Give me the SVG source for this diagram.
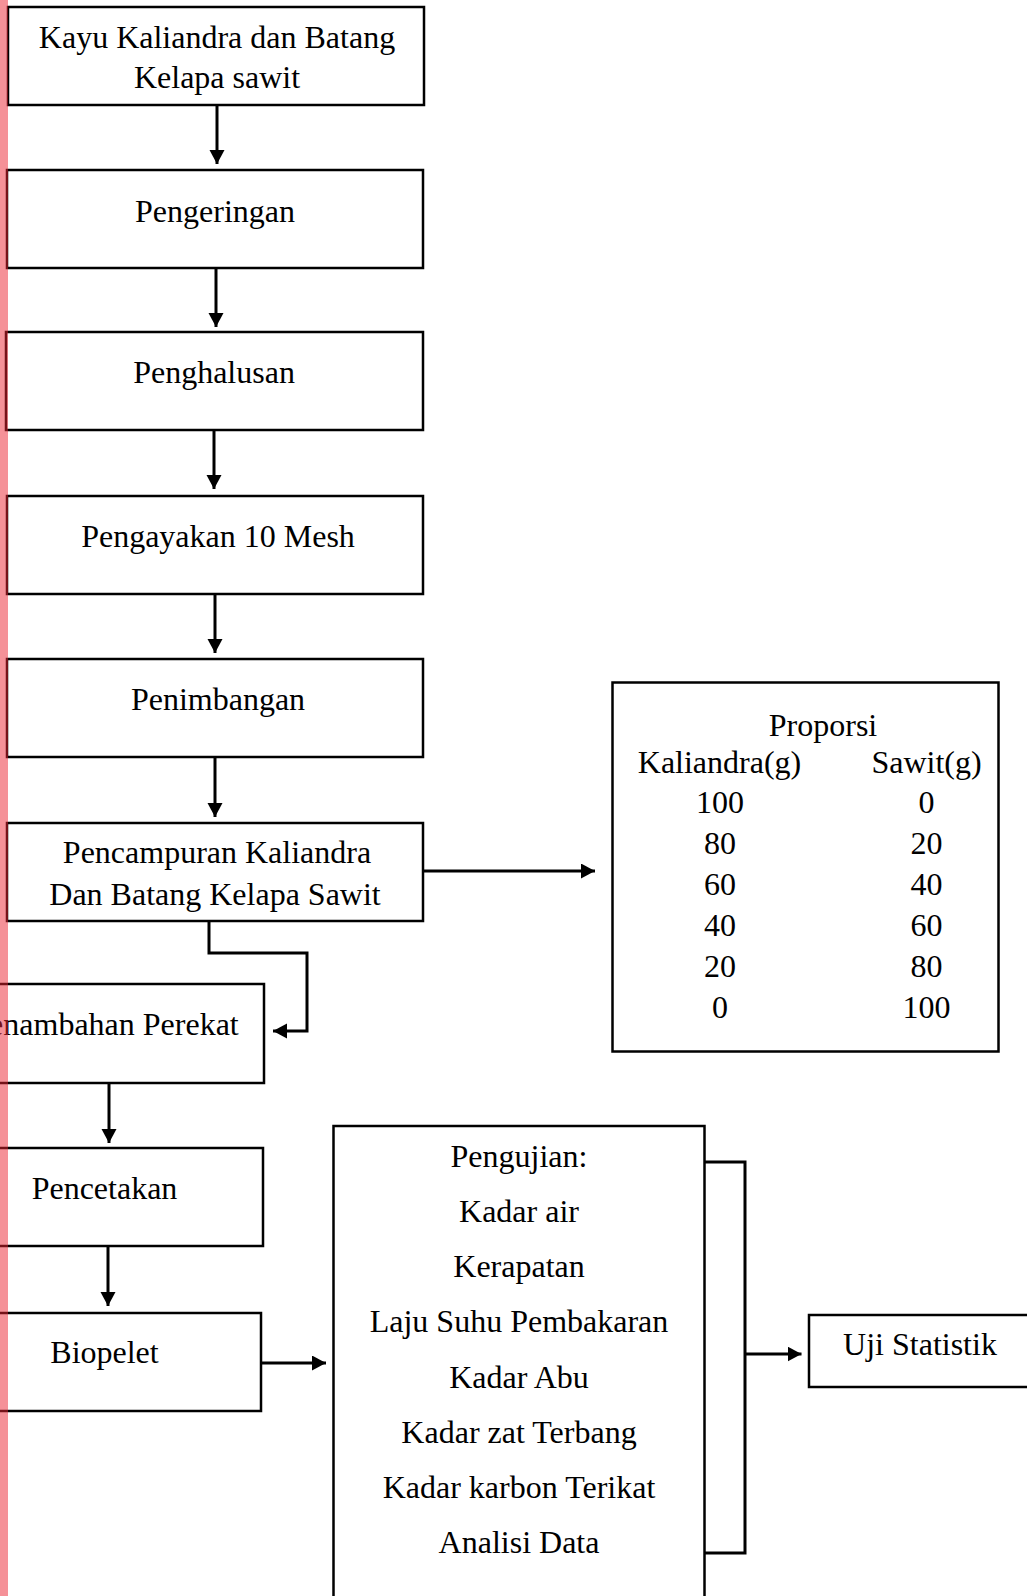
<svg xmlns="http://www.w3.org/2000/svg" width="1027" height="1596" viewBox="0 0 1027 1596">
<style>
.box{fill:#fff;stroke:#000;stroke-width:2.5}
.t{font-family:"Liberation Serif","Times New Roman",serif;font-size:32px;fill:#000;text-anchor:middle}
.c{fill:none;stroke:#000;stroke-width:3}
</style>
<defs>
<marker id="ah" markerUnits="userSpaceOnUse" markerWidth="15" markerHeight="16" refX="14" refY="7.5" orient="auto">
<path d="M0,0 L14,7.5 L0,15 z" fill="#000"/>
</marker>
</defs>
<rect width="1027" height="1596" fill="#fff"/>
<g id="n1"><rect class="box" x="8" y="7" width="416" height="98"/><text class="t" x="217" y="48">Kayu Kaliandra dan Batang</text><text class="t" x="217" y="88">Kelapa sawit</text></g>
<g id="n2"><rect class="box" x="7" y="170" width="416" height="98"/><text class="t" x="215" y="222">Pengeringan</text></g>
<g id="n3"><rect class="box" x="6" y="332" width="417" height="98"/><text class="t" x="214" y="383">Penghalusan</text></g>
<g id="n4"><rect class="box" x="7" y="496" width="416" height="98"/><text class="t" x="218" y="547">Pengayakan 10 Mesh</text></g>
<g id="n5"><rect class="box" x="7" y="659" width="416" height="98"/><text class="t" x="218" y="710">Penimbangan</text></g>
<g id="n6"><rect class="box" x="7" y="823" width="416" height="98"/><text class="t" x="217" y="863">Pencampuran Kaliandra</text><text class="t" x="215" y="905">Dan Batang Kelapa Sawit</text></g>
<g id="n7"><rect class="box" x="-56" y="984" width="320" height="99"/><text class="t" x="105" y="1035">Penambahan Perekat</text></g>
<g id="n8"><rect class="box" x="-55" y="1148" width="318" height="98"/><text class="t" x="104.5" y="1199">Pencetakan</text></g>
<g id="n9"><rect class="box" x="-53" y="1313" width="314" height="98"/><text class="t" x="104.5" y="1363">Biopelet</text></g>
<g id="n10"><rect class="box" x="612.5" y="682.5" width="386" height="369"/>
<text class="t" x="823" y="736">Proporsi</text>
<text class="t" x="719.5" y="773">Kaliandra(g)</text><text class="t" x="926.5" y="773">Sawit(g)</text>
<text class="t" x="720" y="813">100</text><text class="t" x="926.5" y="813">0</text>
<text class="t" x="720" y="854">80</text><text class="t" x="926.5" y="854">20</text>
<text class="t" x="720" y="895">60</text><text class="t" x="926.5" y="895">40</text>
<text class="t" x="720" y="936">40</text><text class="t" x="926.5" y="936">60</text>
<text class="t" x="720" y="977">20</text><text class="t" x="926.5" y="977">80</text>
<text class="t" x="720" y="1018">0</text><text class="t" x="926.5" y="1018">100</text>
</g>
<g id="n11"><rect class="box" x="333.5" y="1126" width="371" height="490"/>
<text class="t" x="519" y="1167">Pengujian:</text>
<text class="t" x="519" y="1222">Kadar air</text>
<text class="t" x="519" y="1277">Kerapatan</text>
<text class="t" x="519" y="1332">Laju Suhu Pembakaran</text>
<text class="t" x="519" y="1388">Kadar Abu</text>
<text class="t" x="519" y="1443">Kadar zat Terbang</text>
<text class="t" x="519" y="1498">Kadar karbon Terikat</text>
<text class="t" x="519" y="1553">Analisi Data</text>
</g>
<g id="n12"><rect class="box" x="809" y="1315" width="240" height="72"/><text class="t" x="920" y="1355">Uji Statistik</text></g>
<g id="connectors">
<line class="c" x1="217" y1="105" x2="217" y2="164" marker-end="url(#ah)"/>
<line class="c" x1="216" y1="268" x2="216" y2="327" marker-end="url(#ah)"/>
<line class="c" x1="214" y1="430" x2="214" y2="489" marker-end="url(#ah)"/>
<line class="c" x1="215" y1="594" x2="215" y2="653" marker-end="url(#ah)"/>
<line class="c" x1="215" y1="757" x2="215" y2="817" marker-end="url(#ah)"/>
<line class="c" x1="423" y1="871" x2="595" y2="871" marker-end="url(#ah)"/>
<polyline class="c" points="209,921 209,953 307,953 307,1031 273,1031" marker-end="url(#ah)"/>
<line class="c" x1="109" y1="1083" x2="109" y2="1143" marker-end="url(#ah)"/>
<line class="c" x1="108" y1="1246" x2="108" y2="1306" marker-end="url(#ah)"/>
<line class="c" x1="261" y1="1363" x2="326" y2="1363" marker-end="url(#ah)"/>
<polyline class="c" points="704.5,1162 745,1162 745,1553 704.5,1553"/>
<line class="c" x1="745" y1="1354" x2="801.5" y2="1354" marker-end="url(#ah)"/>
</g>
<rect x="0" y="0" width="8" height="1596" fill="rgb(235,35,50)" fill-opacity="0.5"/>
</svg>
